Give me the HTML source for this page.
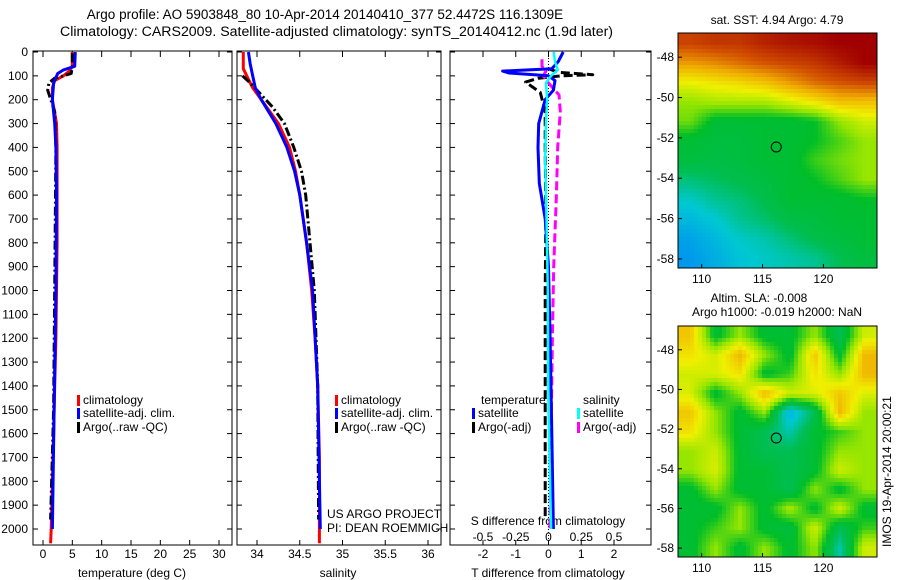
<!DOCTYPE html>
<html><head><meta charset="utf-8"><style>
body{margin:0;background:#fff;}
svg{display:block;font-family:"Liberation Sans",sans-serif;}
</style></head><body>
<svg id="fig" width="900" height="580" viewBox="0 0 900 580">
<text x="325" y="19" font-size="13.5" text-anchor="middle">Argo profile: AO 5903848_80 10-Apr-2014 20140410_377 52.4472S 116.1309E</text>
<text x="60" y="36" font-size="13.5" textLength="553" lengthAdjust="spacingAndGlyphs">Climatology: CARS2009. Satellite-adjusted climatology: synTS_20140412.nc (1.9d later)</text>
<g id="plots"></g>
</svg>
<script>
// depth-profile data
const tClimD=[0,60,80,100,120,150,200,300,400,600,800,1000,1200,1400,1600,1800,2000,2060];
const tClimV=[5.0,5.0,4.5,3.5,2.0,1.6,1.6,2.3,2.4,2.4,2.4,2.3,2.2,2.0,1.8,1.6,1.4,1.3];
const tSatD=[0,60,75,90,130,200,300,400,600,1000,1500,2000];
const tSatV=[5.5,5.4,3.5,2.5,1.8,1.6,2.0,2.2,2.3,2.2,1.9,1.6];
const tArgoD=[5,60,90,100,110,130,160,250,400,1000,1500,1960];
const tArgoV=[5.0,5.0,4.8,3.5,2.0,1.0,0.8,2.0,2.2,2.0,1.8,1.3];
const sClimD=[0,70,100,150,200,300,400,500,600,800,1000,1200,1400,1700,2060];
const sClimV=[33.84,33.84,33.88,33.95,34.05,34.25,34.38,34.45,34.5,34.58,34.64,34.68,34.71,34.73,34.73];
const sSatD=[0,50,100,150,200,300,400,500,600,800,1000,1400,2000];
const sSatV=[33.9,33.92,33.95,33.98,34.05,34.22,34.35,34.44,34.5,34.58,34.65,34.71,34.74];
const sArgoD=[100,130,180,230,300,400,500,600,800,1000,1400,1960];
const sArgoV=[33.83,33.92,34.05,34.18,34.32,34.43,34.52,34.57,34.62,34.67,34.71,34.72];
const dTSatD=[0,40,70,80,88,100,120,160,200,300,400,550,700,900,1200,1600,2000];
const dTSatV=[0.45,0.3,0.1,-1.4,-1.2,0.0,0.2,0.15,-0.1,-0.3,-0.32,-0.28,-0.1,0.0,0.05,0.1,0.15];
const dTArgoD=[70,85,95,100,110,126,170,250,400,700,1000,1500,1950];
const dTArgoV=[0.0,0.3,1.35,0.4,-0.3,-0.7,-0.25,-0.1,-0.1,-0.08,-0.1,-0.1,-0.1];
const dSSatD=[0,40,75,100,130,200,300,450,700,1000,1500,2000];
const dSSatV=[0.04,0.05,0.07,0.02,-0.02,-0.01,-0.02,-0.025,-0.015,-0.005,0.0,0.02];
const dSArgoD=[30,60,80,100,130,180,250,400,600,900,1200,1600,2000];
const dSArgoV=[-0.05,-0.05,-0.02,-0.04,0.0,0.08,0.09,0.07,0.06,0.04,0.03,0.02,0.01];
const depthTicks=[0,100,200,300,400,500,600,700,800,900,1000,1100,1200,1300,1400,1500,1600,1700,1800,1900,2000];
const tTicks=[0,5,10,15,20,25,30];
const sTicks=[34,34.5,35,35.5,36];
const sTickLabels=["34","34.5","35","35.5","36"];
const dTTicks=[-2,-1,0,1,2];
const dSTicks=[-0.5,-0.25,0,0.25,0.5];
const dSTickLabels=["-0.5","-0.25","0","0.25","0.5"];
// map data (0..1 on colormap), rows from north to south, values at cell centres
const mapLatTicks=[-48,-50,-52,-54,-56,-58];
const mapLonTicks=[110,115,120];
const sstGrid=[
[.9,.92,.92,.95,.97,.98,1,1],
[.8,.82,.85,.88,.9,.92,.96,1],
[.68,.7,.72,.75,.8,.85,.88,.9],
[.6,.62,.62,.62,.66,.7,.75,.75],
[.58,.5,.5,.5,.5,.52,.6,.65],
[.5,.48,.48,.5,.5,.52,.56,.6],
[.48,.47,.48,.5,.5,.55,.58,.6],
[.42,.44,.46,.48,.5,.52,.56,.6],
[.36,.4,.42,.46,.5,.5,.5,.52],
[.32,.35,.4,.43,.47,.48,.5,.5],
[.28,.32,.36,.38,.42,.46,.48,.5],
[.26,.3,.34,.36,.38,.4,.45,.48]];
const slaGrid=[
[.74,.5,.6,.5,.5,.6,.45,.65],
[.7,.65,.76,.6,.5,.74,.5,.76],
[.65,.66,.7,.5,.55,.7,.6,.76],
[.66,.5,.6,.76,.65,.66,.74,.66],
[.74,.6,.5,.6,.3,.45,.76,.6],
[.7,.6,.5,.45,.38,.5,.55,.6],
[.6,.65,.5,.45,.45,.5,.6,.6],
[.6,.66,.5,.5,.45,.5,.65,.6],
[.5,.6,.5,.5,.45,.6,.5,.6],
[.5,.5,.6,.5,.62,.5,.65,.5],
[.5,.55,.6,.5,.48,.65,.45,.55],
[.5,.6,.5,.6,.5,.6,.38,.65]];
const argoLon=116.13, argoLat=-52.45;

const NS="http://www.w3.org/2000/svg";
const root=document.getElementById('plots');
function mk(tag,attrs,parent,name,inter){
  const e=document.createElementNS(NS,tag);
  for(const k in attrs)e.setAttribute(k,attrs[k]);
  
  
  (parent||root).appendChild(e);return e;
}
const yTop=52, yPx=477/2000;
const yS=d=>yTop+d*yPx;
function linS(d0,d1,p0,p1){return v=>p0+(v-d0)*(p1-p0)/(d1-d0);}
const xT=linS(0,30,43,219), xSal=linS(34,36,257,428), xDT=linS(-2,2,483,614), xDS=linS(-0.5,0.5,483,614);
function panel(L,R,name){
  const g=mk('g',{},root,name,false);
  mk('rect',{x:L,y:yTop-1,width:R-L,height:545-yTop+1,fill:'none',stroke:'#000','stroke-width':1},g,name+'-frame',false);
  depthTicks.forEach(d=>{
    const y=yS(d);
    mk('line',{x1:L,x2:L+5,y1:y,y2:y,stroke:'#000'},g,'y-tick',false);
    mk('line',{x1:R-5,x2:R,y1:y,y2:y,stroke:'#000'},g,'y-tick-right',false);
  });
  return g;
}
function xticks(g,ticks,labels,sx,yl,name){
  ticks.forEach((v,i)=>{const x=sx(v);
    mk('line',{x1:x,x2:x,y1:yTop-1,y2:yTop+5,stroke:'#000'},g,'x-tick-top',false);
    mk('line',{x1:x,x2:x,y1:540,y2:545,stroke:'#000'},g,'x-tick',false);
    const t=mk('text',{x:x,y:yl,'font-size':12,'text-anchor':'middle'},g,name,false);t.textContent=labels[i];});
}
function line(g,D,V,sx,color,dash,name,w){
  const pts=D.map((d,i)=>sx(V[i]).toFixed(1)+','+yS(d).toFixed(1)).join(' ');
  const a={points:pts,fill:'none',stroke:color,'stroke-width':w||3,'stroke-linejoin':'round'};
  if(dash)a['stroke-dasharray']=dash;
  mk('polyline',a,g,name,false);
}
function txt(g,x,y,s,name,opts){const a=Object.assign({x:x,y:y,'font-size':12},opts||{});const t=mk('text',a,g,name,false);t.textContent=s;return t;}
function legEntry(g,x,y,color,label,name){
  mk('rect',{x:x,y:y-9,width:3,height:11,fill:color},g,name+'-marker',false);
  txt(g,x+6,y,label,name);
}
const DD='9,3,2,3';
// panel 1
const p1=panel(33,232,'temperature-panel');
depthTicks.forEach(d=>{txt(p1,28,yS(d)+4,String(d),'y-tick-label',{'text-anchor':'end'});});
xticks(p1,tTicks,tTicks.map(String),xT,558,'x-tick-label');
txt(p1,132,577,'temperature (deg C)','x-axis-title',{'text-anchor':'middle'});
line(p1,tClimD,tClimV,xT,'#f00',null,'temp-climatology-line');
line(p1,tArgoD,tArgoV,xT,'#000',DD,'temp-argo-line');
line(p1,tSatD,tSatV,xT,'#00f',null,'temp-satellite-line');
legEntry(p1,77,404,'#f00','climatology','legend-climatology');
legEntry(p1,77,417,'#00f','satellite-adj. clim.','legend-satellite');
legEntry(p1,77,431,'#000','Argo(..raw -QC)','legend-argo');
// panel 2
const p2=panel(237,441,'salinity-panel');
xticks(p2,sTicks,sTickLabels,xSal,558,'x-tick-label');
txt(p2,338,577,'salinity','x-axis-title',{'text-anchor':'middle'});
line(p2,sClimD,sClimV,xSal,'#f00',null,'sal-climatology-line');
line(p2,sArgoD,sArgoV,xSal,'#000',DD,'sal-argo-line');
line(p2,sSatD,sSatV,xSal,'#00f',null,'sal-satellite-line');
legEntry(p2,335,404,'#f00','climatology','legend-climatology');
legEntry(p2,335,417,'#00f','satellite-adj. clim.','legend-satellite');
legEntry(p2,335,431,'#000','Argo(..raw -QC)','legend-argo');
txt(p2,327,518,'US ARGO PROJECT','project-label');
txt(p2,327,532,'PI: DEAN ROEMMICH','pi-label');
// panel 3
const p3=panel(450,651,'difference-panel');
xticks(p3,dTTicks,dTTicks.map(String),xDT,558,'t-diff-tick-label');
dSTicks.forEach((v,i)=>{txt(p3,xDS(v),541,dSTickLabels[i],'s-diff-tick-label',{'text-anchor':'middle'});});
txt(p3,548,525,'S difference from climatology','s-diff-axis-title',{'text-anchor':'middle'});
txt(p3,548,577,'T difference from climatology','t-diff-axis-title',{'text-anchor':'middle'});
mk('line',{x1:xDT(0),x2:xDT(0),y1:yTop,y2:545,stroke:'#000','stroke-dasharray':'1,2'},p3,'zero-line',false);
line(p3,dTArgoD,dTArgoV,xDT,'#000','9,4','t-diff-argo-line');
line(p3,dSArgoD,dSArgoV,xDS,'#f0f','9,4','s-diff-argo-line');
line(p3,dTSatD,dTSatV,xDT,'#00f',null,'t-diff-satellite-line');
line(p3,dSSatD,dSSatV,xDS,'#0ff',null,'s-diff-satellite-line',2.5);
txt(p3,481,404,'temperature','legend-temperature-header');
txt(p3,583,404,'salinity','legend-salinity-header');
legEntry(p3,472,417,'#00f','satellite','legend-t-satellite');
legEntry(p3,472,431,'#000','Argo(-adj)','legend-t-argo');
legEntry(p3,577,417,'#0ff','satellite','legend-s-satellite');
legEntry(p3,577,431,'#f0f','Argo(-adj)','legend-s-argo');
// maps
const cmStops=[[0,0,0,160],[0.2,0,120,255],[0.35,0,200,210],[0.45,0,190,80],[0.52,0,190,40],[0.6,150,230,0],[0.68,240,240,0],[0.78,240,170,0],[0.88,210,80,0],[1,160,0,0]];
function cmap(v){
  v=Math.max(0,Math.min(1,v));
  for(let i=1;i<cmStops.length;i++){
    const a=cmStops[i-1],b=cmStops[i];
    if(v<=b[0]){const t=(v-a[0])/(b[0]-a[0]);
      return 'rgb('+[1,2,3].map(k=>Math.round(a[k]+(b[k]-a[k])*t)).join(',')+')';}
  }
  return 'rgb(160,0,0)';
}
function sample(grid,fx,fy){
  const nr=grid.length,nc=grid[0].length;
  fx=Math.max(0,Math.min(nc-1,fx)); fy=Math.max(0,Math.min(nr-1,fy));
  const i0=Math.floor(fy),j0=Math.floor(fx),i1=Math.min(nr-1,i0+1),j1=Math.min(nc-1,j0+1);
  const ty=fy-i0,tx=fx-j0;
  return grid[i0][j0]*(1-tx)*(1-ty)+grid[i0][j1]*tx*(1-ty)+grid[i1][j0]*(1-tx)*ty+grid[i1][j1]*tx*ty;
}
function map(grid,T,B,name,px){
  const L=678,R=877, lon0=108.06, lon1=124.4, lat0=-46.8, lat1=-58.45;
  const g=mk('g',{},root,name,false);
  const sx=linS(lon0,lon1,L,R), sy=linS(lat0,lat1,T,B);
  const nr=grid.length, nc=grid[0].length, cw=(R-L)/nc, ch=(B-T)/nr;
  for(let y=T;y<B;y+=px){for(let x=L;x<R;x+=px){
    const v=sample(grid,(x+px/2-L)/cw-0.5,(y+px/2-T)/ch-0.5);
    mk('rect',{x:x,y:y,width:Math.min(px,R-x)+0.5,height:Math.min(px,B-y)+0.5,fill:cmap(v)},g,'map-cell',false);
  }}
  mk('rect',{x:L,y:T,width:R-L,height:B-T,fill:'none',stroke:'#000'},g,name+'-frame',false);
  mapLatTicks.forEach(v=>{const y=sy(v);
    mk('line',{x1:L,x2:L+4,y1:y,y2:y,stroke:'#000'},g,'lat-tick',false);
    txt(g,L-4,y+4,String(v),'lat-tick-label',{'text-anchor':'end'});});
  mapLonTicks.forEach(v=>{const x=sx(v);
    mk('line',{x1:x,x2:x,y1:B-4,y2:B,stroke:'#000'},g,'lon-tick',false);
    txt(g,x,B+15,String(v),'lon-tick-label',{'text-anchor':'middle'});});
  mk('ellipse',{cx:sx(argoLon),cy:sy(argoLat),rx:5,ry:5,fill:'none',stroke:'#000'},g,'argo-location-marker',false);
}
map(sstGrid,33,268,'sst-map',4);
map(slaGrid,326,557,'sla-map',4);
txt(root,777,24,'sat. SST: 4.94 Argo: 4.79','sst-map-title',{'text-anchor':'middle'});
txt(root,759,302,'Altim. SLA: -0.008','sla-map-title',{'text-anchor':'middle'});
txt(root,777,316,'Argo h1000: -0.019 h2000: NaN','argo-height-label',{'text-anchor':'middle'});
txt(root,0,0,'IMOS 19-Apr-2014 20:00:21','timestamp-label',{transform:'translate(891,547) rotate(-90)'});
</script>
</body></html>
